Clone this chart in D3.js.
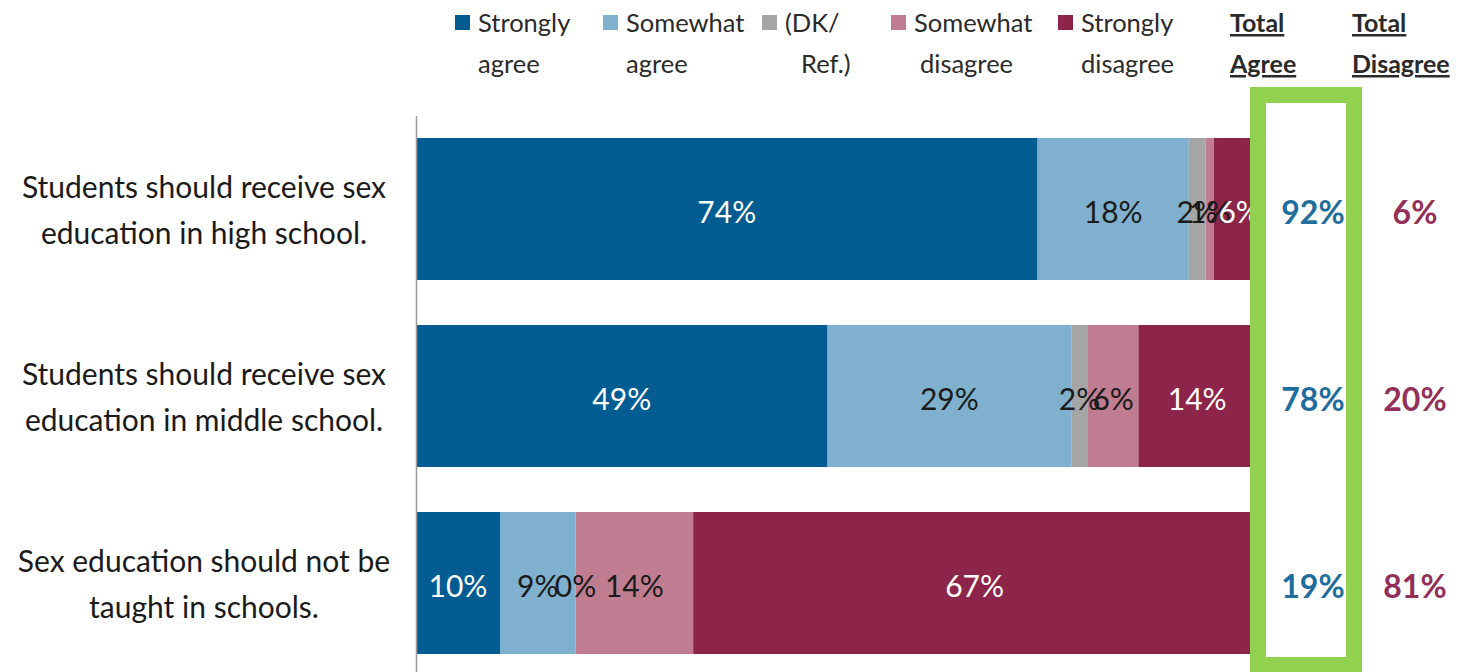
<!DOCTYPE html>
<html>
<head>
<meta charset="utf-8">
<script src="https://cdn.jsdelivr.net/npm/d3@7"></script>
<style>
  html, body { margin: 0; padding: 0; background: #fff; }
  svg { display: block; font-family: Lato, "Open Sans", sans-serif; }
</style>
</head>
<body>
<svg id="chart" width="1458" height="672"></svg>
<script>
// Survey statements (two-line labels)
const categories = [
  "Students should receive sex|education in high school.",
  "Students should receive sex|education in middle school.",
  "Sex education should not be|taught in schools."
];
const seriesNames = ["Strongly agree", "Somewhat agree", "(DK/ Ref.)", "Somewhat disagree", "Strongly disagree"];
const legendLines = [["Strongly", "agree"], ["Somewhat", "agree"], ["(DK/", "Ref.)"], ["Somewhat", "disagree"], ["Strongly", "disagree"]];
const stronglyAgree    = [74, 49, 10];
const somewhatAgree    = [18, 29, 9];
const dkRef            = [2, 2, 0];
const somewhatDisagree = [1, 6, 14];
const stronglyDisagree = [6, 14, 67];
const totalAgree    = [92, 78, 19];
const totalDisagree = [6, 20, 81];
const colors = ["#005c91", "#7fb1ce", "#a5a5a5", "#c07d91", "#8c2549"];
const labelColors = ["#ffffff", "#1a1a1a", "#1a1a1a", "#1a1a1a", "#ffffff"];

const seriesValues = [stronglyAgree, somewhatAgree, dkRef, somewhatDisagree, stronglyDisagree];
const rows = categories.map((c, i) => {
  const r = { cat: c };
  seriesNames.forEach((s, k) => r[s] = seriesValues[k][i]);
  return r;
});

const svg = d3.select("#chart");

const x = d3.scaleLinear().domain([0, 100]).range([416, 1256]);
const y = d3.scaleBand().domain(categories).range([115.5, 676.5])
  .paddingInner(0.2406).paddingOuter(0.1203);

const stack = d3.stack().keys(seriesNames);
const stacked = stack(rows);

// Stacked bars
const layers = svg.append("g").selectAll("g").data(stacked).join("g")
  .attr("fill", (d, i) => colors[i]);
layers.selectAll("rect").data(d => d).join("rect")
  .attr("x", d => x(d[0]))
  .attr("y", d => y(d.data.cat))
  .attr("width", d => x(d[1]) - x(d[0]))
  .attr("height", y.bandwidth());

// Segment value labels
stacked.forEach((layer, k) => {
  svg.append("g").selectAll("text").data(layer).join("text")
    .attr("x", d => (x(d[0]) + x(d[1])) / 2)
    .attr("y", d => y(d.data.cat) + y.bandwidth() / 2 + 3)
    .attr("dy", "0.36em")
    .attr("text-anchor", "middle")
    .attr("fill", labelColors[k])
    .style("font-size", "30px")
    .text(d => (d[1] - d[0]) + "%");
});

// Category axis line
svg.append("g").attr("transform", `translate(${x(0)},0)`)
  .call(d3.axisLeft(y).tickSize(0).tickFormat(""))
  .call(g => g.select(".domain").attr("stroke", "#9a9a9a").attr("stroke-width", 1.5));

// Category labels
const catG = svg.append("g").selectAll("text").data(categories).join("text")
  .attr("text-anchor", "middle")
  .attr("fill", "#1a1a1a")
  .style("font-size", "30px");
catG.each(function(c) {
  const lines = c.split("|");
  const cy = y(c) + y.bandwidth() / 2;
  d3.select(this).selectAll("tspan").data(lines).join("tspan")
    .attr("x", 204)
    .attr("y", (d, j) => cy - 22 + j * 46)
    .attr("dy", "0.36em")
    .text(d => d);
});

// Highlight box around Total Agree column
svg.append("rect")
  .attr("x", 1258).attr("y", 95)
  .attr("width", 96).attr("height", 570)
  .attr("fill", "#ffffff")
  .attr("stroke", "#92d050").attr("stroke-width", 16);

// Totals
svg.append("g").selectAll("text").data(totalAgree).join("text")
  .attr("x", 1313)
  .attr("y", (d, i) => y(categories[i]) + y.bandwidth() / 2 + 3)
  .attr("dy", "0.36em")
  .attr("text-anchor", "middle")
  .attr("fill", "#1f6d9c")
  .style("font-size", "32px").style("font-weight", "bold")
  .text(d => d + "%");
svg.append("g").selectAll("text").data(totalDisagree).join("text")
  .attr("x", 1415)
  .attr("y", (d, i) => y(categories[i]) + y.bandwidth() / 2 + 3)
  .attr("dy", "0.36em")
  .attr("text-anchor", "middle")
  .attr("fill", "#93305a")
  .style("font-size", "32px").style("font-weight", "bold")
  .text(d => d + "%");

// Legend
const legendX = [455, 603, 762, 891, 1058];
const secondLineShift = [0, 0, 16, 6, 0];
const legend = svg.append("g").selectAll("g").data(seriesNames).join("g")
  .attr("transform", (d, i) => `translate(${legendX[i]},0)`);
legend.append("rect")
  .attr("x", 0).attr("y", 15).attr("width", 15).attr("height", 15)
  .attr("fill", (d, i) => colors[i]);
legend.append("text")
  .attr("x", 23).attr("y", 32)
  .attr("fill", "#2a2a2a").style("font-size", "25.5px")
  .text((d, i) => legendLines[i][0]);
legend.append("text")
  .attr("x", (d, i) => 23 + secondLineShift[i]).attr("y", 73)
  .attr("fill", "#2a2a2a").style("font-size", "25.5px")
  .text((d, i) => legendLines[i][1]);

// Total column headers (bold, underlined)
const headers = [{ x: 1230, lines: ["Total", "Agree"] }, { x: 1352, lines: ["Total", "Disagree"] }];
headers.forEach(h => {
  h.lines.forEach((t, j) => {
    svg.append("text")
      .attr("x", h.x).attr("y", 32 + j * 41)
      .attr("fill", "#2a2a2a")
      .style("font-size", "25px").style("font-weight", "bold")
      .style("text-decoration", "underline")
      .text(t);
  });
});
</script>
</body>
</html>
